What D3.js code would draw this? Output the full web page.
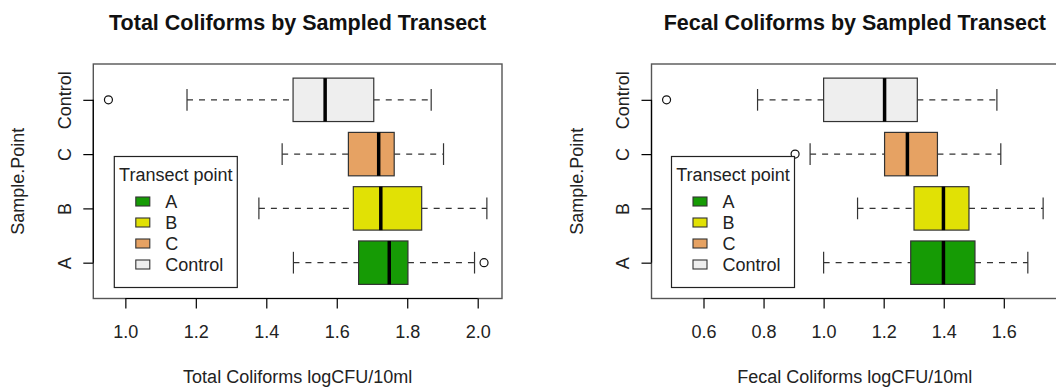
<!DOCTYPE html>
<html>
<head>
<meta charset="utf-8">
<script src="https://cdn.jsdelivr.net/npm/d3@7"></script>
<style>
  html, body { margin: 0; padding: 0; background: #fff; }
  svg { display: block; font-family: "Liberation Sans", Arial, Helvetica, sans-serif; }
</style>
</head>
<body>
<svg id="chart" width="1056" height="387"></svg>
<script>
// Transect points (bottom to top) and their fill colours
const groups = ["A", "B", "C", "Control"];
const groupColors = ["#169b05", "#e1e105", "#e6a263", "#eeeeee"];

// Total coliforms (logCFU/10ml): box-plot summaries per transect point
const totalLowWhisker  = [1.477, 1.379, 1.445, 1.175];
const totalQ1          = [1.662, 1.647, 1.633, 1.476];
const totalMedian      = [1.749, 1.725, 1.719, 1.567];
const totalQ3          = [1.802, 1.841, 1.763, 1.705];
const totalHighWhisker = [1.991, 2.026, 1.903, 1.868];
const totalOutliers    = [[2.018], [], [], [0.952]];
const totalTicks       = [1.0, 1.2, 1.4, 1.6, 1.8, 2.0];

// Fecal coliforms (logCFU/10ml): box-plot summaries per transect point
const fecalLowWhisker  = [1.000, 1.113, 0.955, 0.780];
const fecalQ1          = [1.290, 1.301, 1.203, 1.000];
const fecalMedian      = [1.399, 1.399, 1.279, 1.203];
const fecalQ3          = [1.504, 1.484, 1.379, 1.312];
const fecalHighWhisker = [1.680, 1.731, 1.590, 1.577];
const fecalOutliers    = [[], [], [0.905], [0.477]];
const fecalTicks       = [0.6, 0.8, 1.0, 1.2, 1.4, 1.6];

const svg = d3.select("#chart");
const FONT = 18;

function drawPanel(cfg) {
  const { left, right, top, bottom } = cfg.frame;
  const g = svg.append("g");

  // value axis spans the data range plus 4% on each side
  const all = [...cfg.lo, ...cfg.hi, ...cfg.out.flat()];
  const [mn, mx] = d3.extent(all);
  const pad = (mx - mn) * 0.04;
  const x = d3.scaleLinear().domain([mn - pad, mx + pad]).range([left, right]);
  const y = d3.scaleLinear()
    .domain([0.5 - 0.16, groups.length + 0.5 + 0.16])
    .range([bottom, top]);

  // plot frame
  g.append("rect")
    .attr("x", left).attr("y", top)
    .attr("width", right - left).attr("height", bottom - top)
    .attr("fill", "none").attr("stroke", "#555").attr("stroke-width", 1.4);

  const rows = groups.map((name, i) => ({
    name, pos: i + 1, color: groupColors[i],
    lo: cfg.lo[i], q1: cfg.q1[i], med: cfg.med[i], q3: cfg.q3[i], hi: cfg.hi[i],
    out: cfg.out[i]
  }));

  const box = g.selectAll("g.box").data(rows).join("g").attr("class", "box");

  // dashed whiskers
  box.append("line")
    .attr("x1", d => x(d.lo)).attr("x2", d => x(d.q1))
    .attr("y1", d => y(d.pos)).attr("y2", d => y(d.pos))
    .attr("stroke", "#333").attr("stroke-width", 1.2).attr("stroke-dasharray", "6,6");
  box.append("line")
    .attr("x1", d => x(d.q3)).attr("x2", d => x(d.hi))
    .attr("y1", d => y(d.pos)).attr("y2", d => y(d.pos))
    .attr("stroke", "#333").attr("stroke-width", 1.2).attr("stroke-dasharray", "6,6");

  // whisker staples
  box.selectAll("line.staple").data(d => [{ v: d.lo, pos: d.pos }, { v: d.hi, pos: d.pos }])
    .join("line").attr("class", "staple")
    .attr("x1", d => x(d.v)).attr("x2", d => x(d.v))
    .attr("y1", d => y(d.pos - 0.2)).attr("y2", d => y(d.pos + 0.2))
    .attr("stroke", "#333").attr("stroke-width", 1.2);

  // interquartile boxes
  box.append("rect")
    .attr("x", d => x(d.q1)).attr("width", d => x(d.q3) - x(d.q1))
    .attr("y", d => y(d.pos + 0.4)).attr("height", d => y(d.pos - 0.4) - y(d.pos + 0.4))
    .attr("fill", d => d.color).attr("stroke", "#333").attr("stroke-width", 1.2);

  // medians
  box.append("line")
    .attr("x1", d => x(d.med)).attr("x2", d => x(d.med))
    .attr("y1", d => y(d.pos + 0.4)).attr("y2", d => y(d.pos - 0.4))
    .attr("stroke", "#000").attr("stroke-width", 3.5);

  // outliers
  box.selectAll("circle").data(d => d.out.map(v => ({ v, pos: d.pos })))
    .join("circle")
    .attr("cx", d => x(d.v)).attr("cy", d => y(d.pos)).attr("r", 4)
    .attr("fill", "#fff").attr("stroke", "#111").attr("stroke-width", 1.2);

  // bottom axis
  const xa = g.append("g").attr("transform", `translate(0,${bottom})`)
    .call(d3.axisBottom(x).tickValues(cfg.ticks).tickSize(10).tickFormat(d3.format(".1f")));
  xa.select(".domain").remove();
  xa.append("line")
    .attr("x1", x(cfg.ticks[0])).attr("x2", x(cfg.ticks[cfg.ticks.length - 1]))
    .attr("stroke", "#000").attr("stroke-width", 1.2);
  xa.selectAll(".tick line").attr("stroke", "#000").attr("stroke-width", 1.2);
  xa.selectAll(".tick text")
    .attr("y", 39.5).attr("dy", 0)
    .attr("font-size", FONT).attr("font-family", null).attr("fill", "#222");

  // left axis with rotated category labels
  const ya = g.append("g").attr("transform", `translate(${left},0)`)
    .call(d3.axisLeft(y).tickValues(rows.map(d => d.pos)).tickSize(10)
      .tickFormat(p => groups[p - 1]));
  ya.select(".domain").remove();
  ya.append("line")
    .attr("y1", y(1)).attr("y2", y(groups.length))
    .attr("stroke", "#000").attr("stroke-width", 1.2);
  ya.selectAll(".tick line").attr("stroke", "#000").attr("stroke-width", 1.2);
  ya.selectAll(".tick text")
    .attr("transform", "rotate(-90)")
    .attr("x", 0).attr("y", -22.5).attr("dy", 0)
    .attr("text-anchor", "middle")
    .attr("font-size", FONT).attr("font-family", null).attr("fill", "#222");

  // titles
  const cx = (left + right) / 2;
  g.append("text").attr("x", cx).attr("y", 29.5)
    .attr("text-anchor", "middle").attr("font-weight", "bold")
    .attr("font-size", 21.5).attr("fill", "#111").text(cfg.title);
  g.append("text").attr("x", cx).attr("y", 383)
    .attr("text-anchor", "middle").attr("font-size", FONT).attr("fill", "#222")
    .text(cfg.xlabel);
  g.append("text")
    .attr("transform", `translate(${left - 69},${(top + bottom) / 2}) rotate(-90)`)
    .attr("text-anchor", "middle").attr("font-size", FONT).attr("fill", "#222")
    .text("Sample.Point");

  // legend
  const lw = 123, lh = 131;
  const lx = left + cfg.legendInset, ly = bottom - 11 - lh;
  const lg = g.append("g").attr("transform", `translate(${lx},${ly})`);
  lg.append("rect").attr("width", lw).attr("height", lh)
    .attr("fill", "#fff").attr("stroke", "#222").attr("stroke-width", 1.2);
  lg.append("text").attr("x", lw / 2).attr("y", 24.5)
    .attr("text-anchor", "middle").attr("font-size", FONT).attr("fill", "#222")
    .text("Transect point");
  const item = lg.selectAll("g.item").data(rows).join("g").attr("class", "item")
    .attr("transform", (d, i) => `translate(0,${45 + i * 21})`);
  item.append("rect").attr("x", 21.5).attr("y", -4.5).attr("width", 14).attr("height", 9)
    .attr("fill", d => d.color).attr("stroke", "#333").attr("stroke-width", 1.1);
  item.append("text").attr("x", 51).attr("y", 6.5)
    .attr("font-size", FONT).attr("fill", "#222").text(d => d.name);
}

drawPanel({
  frame: { left: 93.3, right: 502, top: 64, bottom: 298.5 },
  lo: totalLowWhisker, q1: totalQ1, med: totalMedian, q3: totalQ3, hi: totalHighWhisker,
  out: totalOutliers, ticks: totalTicks, legendInset: 21,
  title: "Total Coliforms by Sampled Transect",
  xlabel: "Total Coliforms logCFU/10ml"
});

drawPanel({
  frame: { left: 651.5, right: 1058.2, top: 64, bottom: 298.5 },
  lo: fecalLowWhisker, q1: fecalQ1, med: fecalMedian, q3: fecalQ3, hi: fecalHighWhisker,
  out: fecalOutliers, ticks: fecalTicks, legendInset: 20,
  title: "Fecal Coliforms by Sampled Transect",
  xlabel: "Fecal Coliforms logCFU/10ml"
});
</script>
</body>
</html>
